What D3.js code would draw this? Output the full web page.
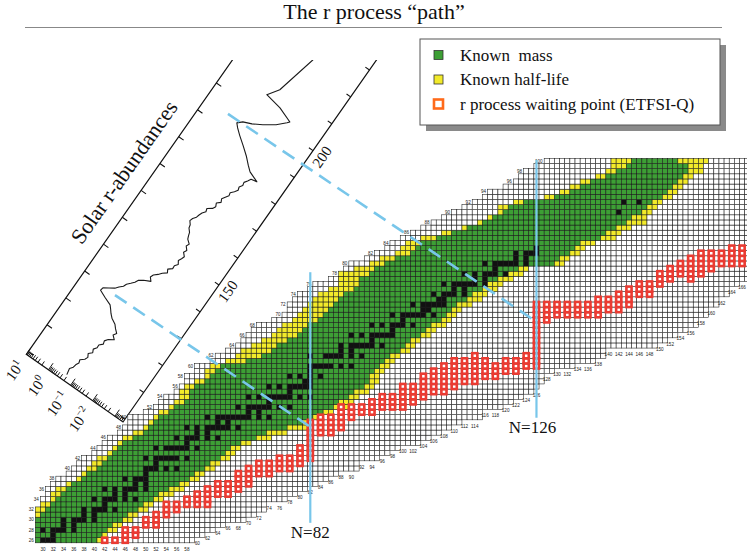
<!DOCTYPE html>
<html>
<head>
<meta charset="utf-8">
<title>The r process path</title>
<script src="https://cdn.jsdelivr.net/npm/d3@7"></script>
<style>
  body { margin: 0; background: #fff; }
  svg { display: block; }
  .tiny { font-family: "Liberation Sans", Arial, sans-serif; font-size: 4.6px; fill: #222; }
</style>
</head>
<body>
<svg id="chart" width="747" height="555"></svg>
<script>
// rows of the nuclide chart, Z = 26 .. 100
var rowZ = d3.range(26, 101);
var gridFirst = [29,29,29,29,29,29,29,30,30,31, 31,32,33,35,36,37,38,40,41,42,
                 43,45,46,47,47,50,52,53,54,56, 57,58,58,60,60,63,64,66,68,69,
                 70,71,72,75,77,78,78,79,80,82, 83,86,88,89,90,93,95,97,98,100,
                 102,104,106,108,110,112,114,116,117,120, 122,123,124,126,128];
var gridLast = [59,61,63,65,69,71,73,73,77,79, 81,83,85,87,91,91,95,97,99,103,
                105,107,109,111,115,115,119,121,123,125, 126,127,127,129,133,137,139,139,149,151,
                153,155,157,157,159,159,161,161,163,163, 165,170,170,170,170,170,170,170,170,170,
                170,170,170,170,170,170,170,170,170,170, 170,170,170,170,170];
// known half-life (yellow) limits and known mass (green) limits
var knownFirst = [29,29,29,29,29,29,29,30,32,32, 33,35,37,38,39,40,41,43,44,45,
                  46,48,50,51,52,53,55,56,57,57, 58,60,62,62,63,66,68,69,71,73,
                  75,76,77,79,80,81,82,83,84,86, 88,88,88,91,94,96,99,100,101,104,
                  108,112,115,117,119,119,122,128,131,133, 135,138,140,141,141];
var massFirst = [29,29,29,29,29,30,31,32,33,34, 35,36,38,39,41,42,43,44,45,46,
                 48,50,51,52,53,55,56,58,59,59, 60,62,63,64,65,70,73,75,76,78,
                 80,81,82,84,85,86,87,88,89,91, 92,92,94,95,97,99,102,103,104,107,
                 110,113,116,118,120,121,124,130,133,135, 137,140,142,144,145];
var massLast = [40,41,42,43,45,46,48,49,51,52, 54,56,58,59,61,62,64,65,66,68,
                71,73,77,80,82,84,86,87,89,90, 92,93,93,94,95,96,97,99,100,101,
                103,104,105,107,108,109,110,112,113,115, 116,118,120,122,129,130,132,133,134,138,
                139,141,143,144,146,147,148,150,151,152, 153,154,155,155,153];
var knownLast = [41,42,44,45,47,48,50,51,53,55, 57,58,60,61,63,64,66,67,68,70,
                 74,77,81,82,84,86,89,90,91,93, 94,95,95,96,97,98,99,101,102,103,
                 105,106,108,109,110,111,113,115,116,118, 119,121,123,124,131,132,134,135,137,141,
                 142,144,147,147,148,149,150,152,153,154, 155,156,158,158,159];
// stable (black) neutron numbers per row
var stableN = [[28,30,31,32],[32],[30,32,33,34,36],[34,36],[34,36,37,38,40],[38,40],
  [38,40,41,42,44],[42],[40,42,43,44,46,48],[44,46],[42,44,46,47,48,50],[48,50],
  [46,48,49,50],[50],[50,51,52,54,56],[52],[50,52,53,54,55,56,58],[],
  [52,54,55,56,57,58,60],[58],[56,58,59,60,62,64],[60,62],[58,60,62,63,64,65,66,68],[64,66],
  [62,64,65,66,67,68,69,70,72,74],[70,72],[68,70,71,72,73,74,76,78],[74],
  [70,72,74,75,76,77,78,80,82],[78],[74,76,78,79,80,81,82],[81,82],[78,80,82,84],[82],
  [82,83,84,85,86,88,90],[],[82,85,86,87,88,90,92],[88,90],[88,90,91,92,93,94,96],[94],
  [90,92,94,95,96,97,98],[98],[94,96,98,99,100,102],[100],[98,100,101,102,103,104,106],[104,105],
  [102,104,105,106,107,108],[107,108],[106,108,109,110,112],[110,112],[108,110,111,112,113,114,116],[114,116],
  [112,114,116,117,118,120],[118],[116,118,119,120,121,122,124],[122,124],[122,124,125,126],[126],
  [],[],[],[],[],[],[142],[],[143,146],[],[],[],[],[],[],[],[]];
// r process waiting points (ETFSI-Q), per even N
var waitN = [42,44,46,48,50,52,54,56,58,60, 62,64,66,68,70,72,74,76,78,80,
             82,84,86,88,90,92,94,96,98,100, 102,104,106,108,110,112,114,116,118,120,
             122,124,126,128,130,132,134,136,138,140, 142,144,146,148,150,152,154,156,158,160,
             162,164,166];
var waitZlo = [26,26,26,27,29,29,31,32,33,33, 33,35,35,36,37,39,39,40,40,41,
               42,47,47,48,50,51,51,52,52,52, 53,54,55,55,56,57,57,58,58,59,
               59,60,60,69,70,70,70,70,70,71, 71,72,74,74,76,77,78,77,78,79,
               80,80,80];
var waitZhi = [26,26,28,28,30,31,33,33,34,35, 36,37,37,39,40,41,41,42,42,44,
               49,50,50,52,52,52,53,54,54,56, 56,58,59,60,61,61,62,61,60,61,
               61,62,72,72,72,72,72,72,73,73, 74,75,76,76,78,79,80,81,82,82,
               82,83,83];
// closed shells
var shellN = [82, 126];
var shellZtop = [78.3, 100.2];
var shellZbot = [29.4, 49.9];
var shellText = ['N=82', 'N=126'];
// solar r-abundances, log10
var solarA = [101,103,104,105,106,107,108,109,110,111,112,113,114,115,116,117,118,119,120,121,
  122,123,124,125,126,127,128,129,130,131,132,133,134,135,136,137,138,139,140,141,
  142,143,144,145,146,147,148,149,150,151,152,153,154,155,156,157,158,159,160,161,
  162,163,164,165,166,167,168,169,170,171,172,173,174,175,176,177,178,179,180,181,
  182,182.4,183.7,185,187,189,191,192.5,193.6,194.9,196,197.7,200,202.4,203.1,204.9,205.9,209.4,222.7];
var solarLog = [-0.66,-0.61,-0.70,-0.72,-0.78,-0.74,-0.88,-0.93,-0.86,-0.98,-0.92,-1.01,-1.00,-1.12,-1.08,-1.17,-1.36,-1.22,-1.30,-1.16,
  -1.05,-0.83,-0.70,-0.60,-0.49,-0.17,0.11,0.09,-0.10,-0.28,-0.38,-0.50,-0.55,-0.66,-0.76,-0.82,-0.98,-1.23,-1.12,-1.17,
  -1.30,-1.40,-1.55,-1.48,-1.62,-1.61,-1.70,-1.62,-1.68,-1.72,-1.60,-1.66,-1.55,-1.60,-1.45,-1.40,-1.36,-1.25,-1.22,-1.12,
  -1.16,-1.25,-1.28,-1.33,-1.42,-1.38,-1.55,-1.61,-1.55,-1.68,-1.62,-1.70,-1.78,-1.75,-1.86,-1.94,-1.90,-1.98,-1.95,-2.03,
  -2.10,-2.33,-1.91,-1.72,-1.46,-1.15,-0.82,-0.60,-0.47,-0.63,-0.95,-1.30,-1.70,-1.99,-2.06,-1.46,-0.78,-1.07,-1.44];
var aTicks = d3.range(100, 241, 10);
var aLabels = [150, 200];
var logMajor = [-3, -2, -1, 0, 1];
var logLabels = [1, 0, -1, -2];
// dashed links from abundance peaks to the shells
var linkA = [129.3, 194.3];
var linkLog = [-0.43, -0.01];
var linkN = [82, 126];
var linkZ = [48.1, 68.6];
var legendLabels = ['Known  mass', 'Known half-life', 'r process waiting point (ETFSI-Q)'];

var green = '#3d9f35', yellow = '#f2ea2a', red = '#ea3b32', blue = '#78c6ea';
var serif = '"Liberation Serif", "Times New Roman", Times, serif';
var svg = d3.select('#chart');

// title
svg.append('text').attr('x', 374).attr('y', 19)
    .attr('text-anchor', 'middle').style('font-family', serif).style('font-size', '22px')
    .attr('fill', '#111')
    .text('The r process \u201cpath\u201d');
svg.append('line').attr('x1', 25).attr('x2', 722).attr('y1', 27.5).attr('y2', 27.5)
    .attr('stroke', '#888').attr('stroke-width', 1);

// rotated abundance plot
var xA = d3.scaleLinear().domain([99, 240]).range([0, 141 * 3.28]);
var yL = d3.scaleLinear().domain([-3.37, 1]).range([0, -118]);
var ang = -55;
svg.append('clipPath').attr('id', 'clipTop').append('rect')
    .attr('x', 0).attr('y', 60).attr('width', 747).attr('height', 495);
var plot = svg.append('g').attr('clip-path', 'url(#clipTop)')
    .append('g').attr('transform', 'translate(123,422) rotate(' + ang + ')');

plot.append('path')
    .attr('d', 'M' + xA(240) + ',0H0V' + yL(1) + 'H' + xA(240))
    .attr('fill', 'none').attr('stroke', '#111').attr('stroke-width', 1.2);
plot.selectAll('.ta').data(aTicks).join('path').attr('class', 'ta')
    .attr('d', function(d) { return 'M' + xA(d) + ',0v-5M' + xA(d) + ',' + yL(1) + 'v6'; })
    .attr('stroke', '#111').attr('stroke-width', 1.1);

var logMinor = [];
[-4, -3, -2, -1, 0].forEach(function(n) {
    d3.range(2, 10).forEach(function(k) {
        var l = n + Math.log10(k);
        if (l > -3.37 && l < 1) logMinor.push(l);
    });
});
plot.selectAll('.tl').data(logMajor.map(function(d) { return {l: d, len: 8}; })
        .concat(logMinor.map(function(d) { return {l: d, len: 4.5}; })))
    .join('path').attr('class', 'tl')
    .attr('d', function(d) { return 'M0,' + yL(d.l) + 'h' + d.len; })
    .attr('stroke', '#111').attr('stroke-width', 0.9);

plot.selectAll('.la').data(aLabels).join('text').attr('class', 'la')
    .attr('x', function(d) { return xA(d); }).attr('y', 16)
    .attr('text-anchor', 'middle').style('font-family', serif).style('font-size', '15px')
    .attr('fill', '#111')
    .text(function(d) { return d; });

var ll = plot.selectAll('.ll').data(logLabels).join('text').attr('class', 'll')
    .attr('x', -10).attr('y', function(d) { return yL(d) + 5; })
    .attr('text-anchor', 'end').style('font-family', serif).style('font-size', '15px')
    .attr('fill', '#111');
ll.append('tspan').text('10');
ll.append('tspan').attr('dy', -6).style('font-size', '10px')
    .text(function(d) { return d < 0 ? '\u2212' + (-d) : d; });

plot.append('text')
    .attr('x', xA(161.6)).attr('y', yL(1) - 17)
    .attr('text-anchor', 'middle').style('font-family', serif).style('font-size', '22px')
    .attr('fill', '#111')
    .text('Solar r-abundances');

plot.append('path').datum(solarA)
    .attr('d', d3.line().x(function(d) { return xA(d); })
        .y(function(d, i) { return yL(solarLog[i]); }))
    .attr('fill', 'none').attr('stroke', '#1a1a1a').attr('stroke-width', 1.1)
    .attr('stroke-linejoin', 'round');

// nuclide chart
var x = d3.scaleLinear().domain([30, 164]).range([43, 731.8]);
var y = d3.scaleLinear().domain([28, 100]).range([530, 161]);
var cw = x(31) - x(30), ch = y(28) - y(29);

var cells = [];
rowZ.forEach(function(z, i) {
    for (var n = gridFirst[i]; n <= gridLast[i]; n++) {
        var fill = '#fff';
        if (stableN[i].indexOf(n) >= 0) fill = '#111';
        else if (n >= massFirst[i] && n <= massLast[i]) fill = green;
        else if (n >= knownFirst[i] && n <= knownLast[i]) fill = yellow;
        cells.push({n: n, z: z, fill: fill});
    }
});
var chart = svg.append('g');
chart.selectAll('.cell').data(cells).join('rect').attr('class', 'cell')
    .attr('x', function(d) { return x(d.n) - cw / 2; })
    .attr('y', function(d) { return y(d.z) - ch / 2; })
    .attr('width', cw).attr('height', ch)
    .attr('fill', function(d) { return d.fill; })
    .attr('stroke', '#1a1a1a').attr('stroke-width', 0.55);

var waits = [];
waitN.forEach(function(n, i) {
    for (var z = waitZlo[i]; z <= waitZhi[i]; z++) waits.push({n: n, z: z});
});
chart.selectAll('.wp').data(waits).join('rect').attr('class', 'wp')
    .attr('x', function(d) { return x(d.n) - cw / 2; })
    .attr('y', function(d) { return y(d.z) - ch / 2; })
    .attr('width', cw).attr('height', ch)
    .attr('fill', '#fff').attr('stroke', red).attr('stroke-width', 2.6);

chart.selectAll('.zl').data(rowZ.filter(function(z) { return z % 2 === 0; })).join('text')
    .attr('class', 'tiny zl')
    .attr('x', function(z) { return x(gridFirst[z - 26]) - cw / 2 - 1.5; })
    .attr('y', function(z) { return y(z) + 1.7; })
    .attr('text-anchor', 'end')
    .text(function(z) { return z; });

var nCols = d3.range(30, 167, 2);
chart.selectAll('.nl').data(nCols).join('text').attr('class', 'tiny nl')
    .attr('x', function(n) { return x(n); })
    .attr('y', function(n) {
        var zb = rowZ.find(function(z, i) { return n >= gridFirst[i] && n <= gridLast[i]; });
        return y(zb) + 10.3;
    })
    .attr('text-anchor', 'middle')
    .text(function(n) { return n; });

// shells and links
function toPage(a, lg) {
    var u = xA(a), v = yL(lg), t = ang * Math.PI / 180;
    return [123 + u * Math.cos(t) - v * Math.sin(t), 422 + u * Math.sin(t) + v * Math.cos(t)];
}
svg.selectAll('.link').data(linkA).join('line').attr('class', 'link')
    .attr('x1', function(d, i) { return toPage(d, linkLog[i])[0]; })
    .attr('y1', function(d, i) { return toPage(d, linkLog[i])[1]; })
    .attr('x2', function(d, i) { return x(linkN[i]); })
    .attr('y2', function(d, i) { return y(linkZ[i]); })
    .attr('stroke', blue).attr('stroke-width', 2.6).attr('stroke-dasharray', '14,8');
svg.selectAll('.shell').data(shellN).join('line').attr('class', 'shell')
    .attr('x1', function(d) { return x(d); }).attr('x2', function(d) { return x(d); })
    .attr('y1', function(d, i) { return y(shellZtop[i]); })
    .attr('y2', function(d, i) { return y(shellZbot[i]); })
    .attr('stroke', blue).attr('stroke-width', 2.2);
svg.selectAll('.shellt').data(shellN).join('text').attr('class', 'shellt')
    .attr('x', function(d, i) { return x(d) - (i ? 4 : 0); })
    .attr('y', function(d, i) { return y(shellZbot[i]) + 15; })
    .attr('text-anchor', 'middle').style('font-family', serif).style('font-size', '17px')
    .attr('fill', '#111')
    .text(function(d, i) { return shellText[i]; });

// legend
var lg = svg.append('g').attr('transform', 'translate(420,39)');
lg.append('rect').attr('x', 6).attr('y', 6).attr('width', 300).attr('height', 86).attr('fill', '#8a8a8a');
lg.append('rect').attr('width', 300).attr('height', 86)
    .attr('fill', '#fff').attr('stroke', '#555').attr('stroke-width', 1);
var items = lg.selectAll('.item').data(legendLabels).join('g').attr('class', 'item')
    .attr('transform', function(d, i) { return 'translate(0,' + (16 + i * 24.5) + ')'; });
items.append('rect').attr('x', 14).attr('y', -4.5).attr('width', 9).attr('height', 9)
    .attr('fill', function(d, i) { return i === 2 ? '#fff' : (i ? yellow : green); })
    .attr('stroke', function(d, i) { return i === 2 ? '#ff6a1a' : '#333'; })
    .attr('stroke-width', function(d, i) { return i === 2 ? 2.6 : 0.8; });
items.append('text').attr('x', 40).attr('y', 5.5)
    .style('font-family', serif).style('font-size', '17px').style('white-space', 'pre')
    .attr('fill', '#111')
    .text(function(d) { return d; });
</script>
</body>
</html>
